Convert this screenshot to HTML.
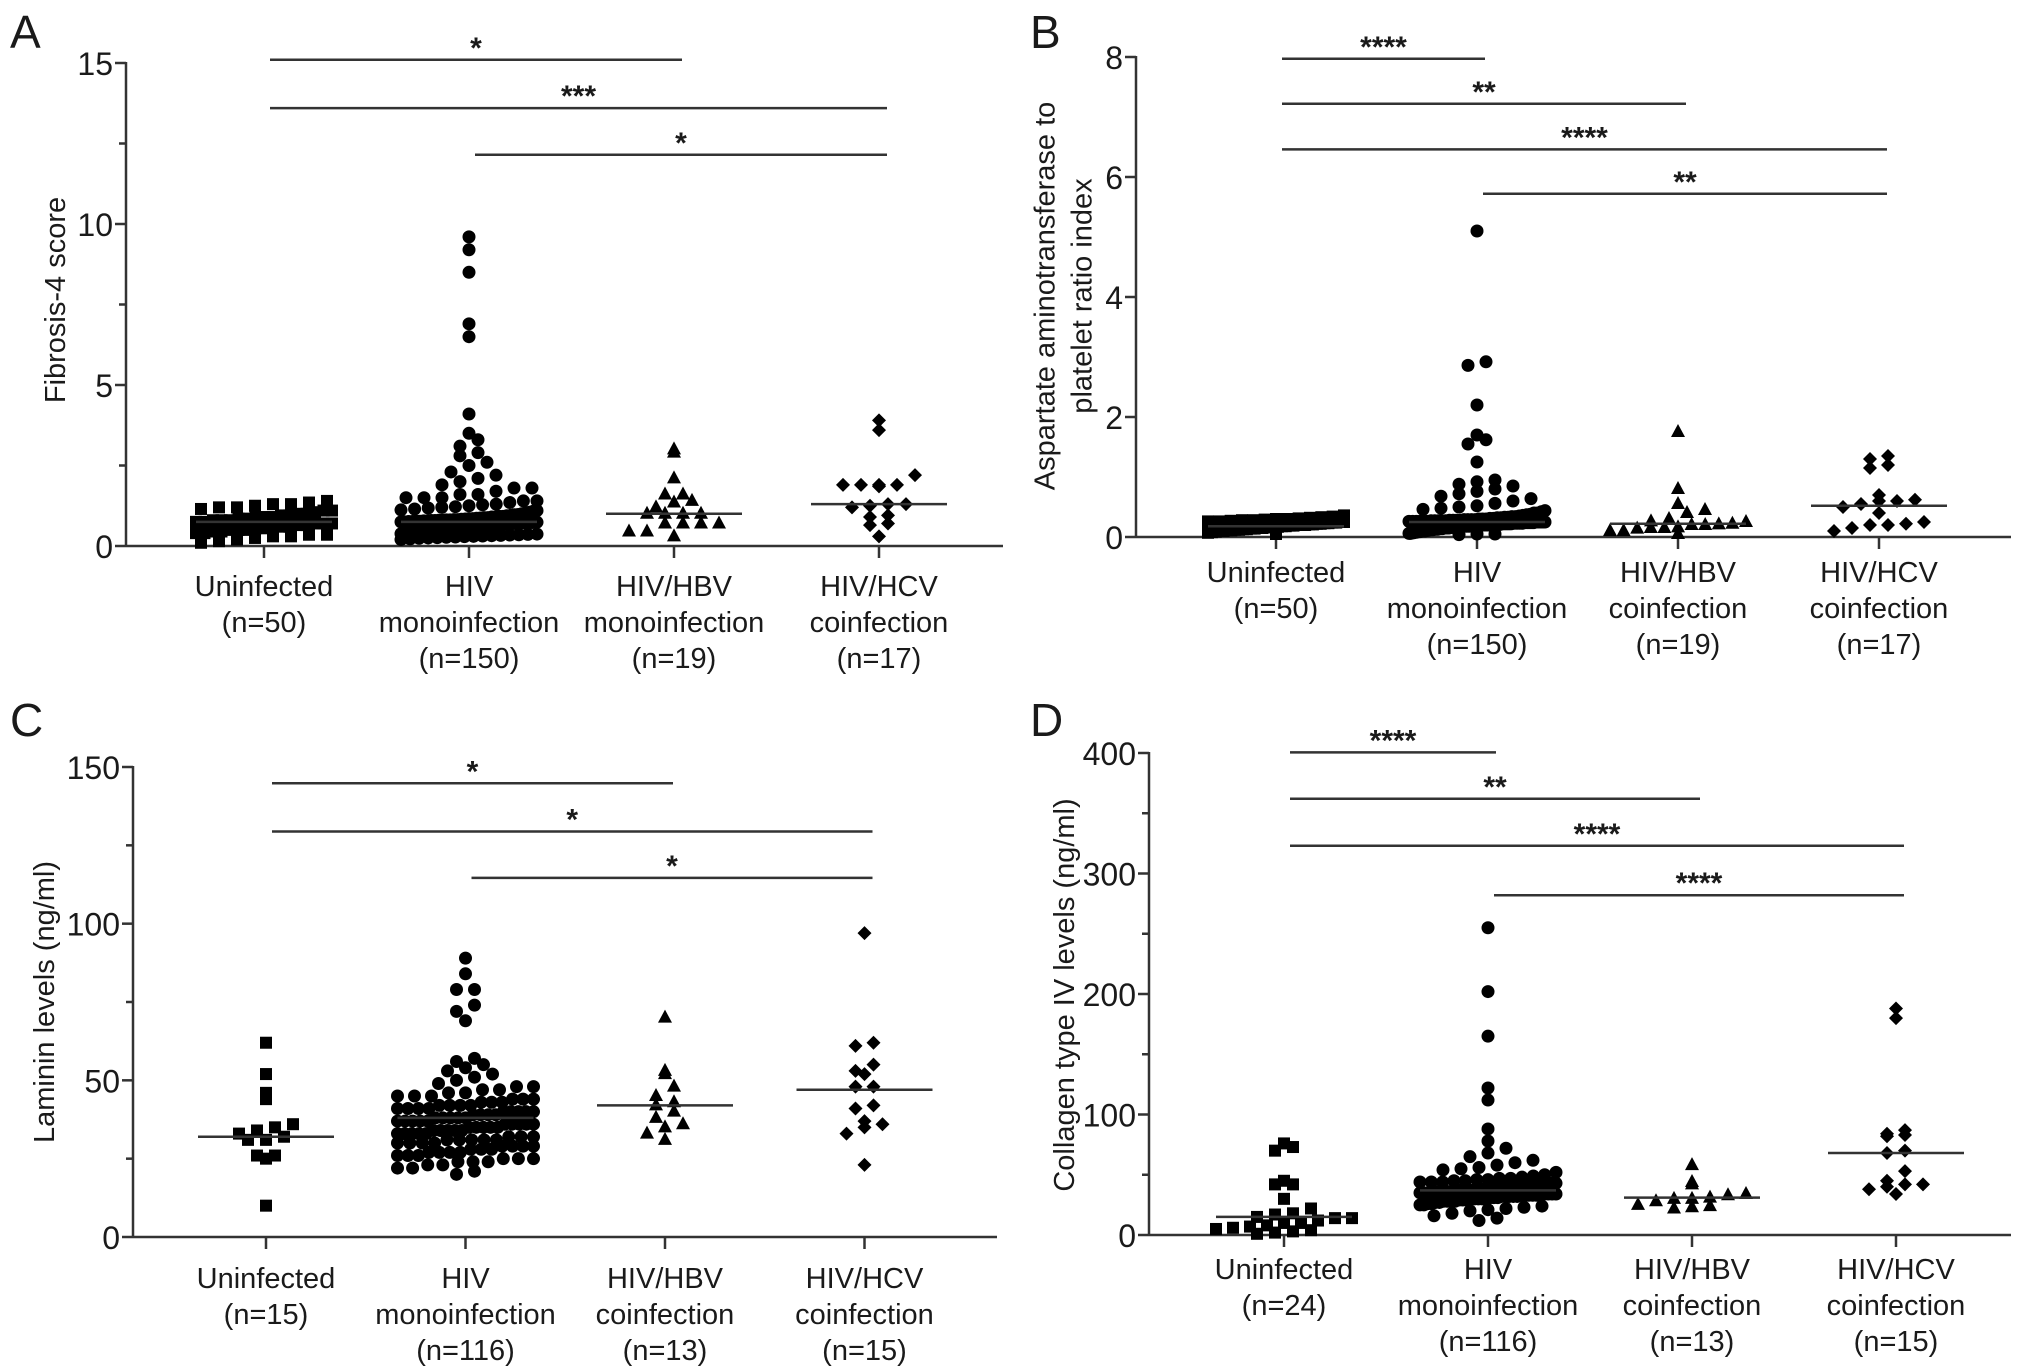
<!DOCTYPE html>
<html><head><meta charset="utf-8"><style>
html,body{margin:0;padding:0;background:#fff;}
svg{display:block;}
text{font-family:"Liberation Sans",Arial,sans-serif;fill:#1a1a1a;}
</style></head><body>
<svg id="fig" width="2032" height="1372" viewBox="0 0 2032 1372" xmlns="http://www.w3.org/2000/svg"></svg>
<script>
// ---------- Panel A data (Fibrosis-4 score) ----------
const aCategories = [["Uninfected","(n=50)"],["HIV","monoinfection","(n=150)"],["HIV/HBV","monoinfection","(n=19)"],["HIV/HCV","coinfection","(n=17)"]];
const aTicks = [0,5,10,15];
const aUninfected = [1.4,1.35,1.3,1.3,1.25,1.2,1.2,1.15,1.1,1.1,1.05,1.0,1.0,0.95,0.95,0.9,0.9,0.9,0.85,0.85,0.8,0.8,0.8,0.75,0.75,0.7,0.7,0.7,0.65,0.65,0.6,0.6,0.6,0.55,0.55,0.5,0.5,0.5,0.45,0.45,0.4,0.4,0.35,0.35,0.3,0.3,0.25,0.2,0.15,0.1];
const aHIV = [9.6,9.2,8.5,6.9,6.5,4.1,3.5,3.3,3.1,2.9,2.8,2.6,2.5,2.3,2.2,2.1,2.0,1.9,1.8,1.8,1.7,1.6,1.6,1.5,1.5,1.5,1.4,1.4,
1.35,1.3,1.28,1.25,1.22,1.2,1.18,1.15,1.12,1.1,1.08,1.05,1.03,1.0,0.98,0.97,0.95,0.94,0.92,0.9,0.9,0.88,0.87,0.86,0.85,0.84,0.83,0.82,0.81,0.8,
0.8,0.79,0.78,0.78,0.77,0.76,0.75,0.75,0.74,0.73,0.72,0.72,0.71,0.7,0.7,0.7,0.69,0.68,0.68,0.67,0.66,0.65,0.65,0.64,0.63,0.62,0.62,0.61,0.6,0.6,
0.6,0.59,0.58,0.57,0.56,0.55,0.55,0.54,0.53,0.52,0.51,0.5,0.5,0.49,0.48,0.47,0.46,0.45,0.44,0.43,0.42,0.41,0.4,0.39,0.38,0.37,0.36,0.35,0.34,0.33,
0.32,0.31,0.3,0.29,0.28,0.27,0.26,0.25,0.24,0.22,0.2,0.85,0.82,0.76,0.73,0.71,0.69,0.66,0.63,0.58,0.77,0.74,0.79,0.72,0.67,0.64,0.61,0.57,0.53,0.81,0.88,0.92];
const aHBV = [3.0,2.9,2.1,1.6,1.6,1.4,1.35,1.2,1.0,1.0,1.0,1.0,0.7,0.7,0.7,0.7,0.45,0.45,0.3];
const aHCV = [3.9,3.6,2.2,1.9,1.9,1.9,1.9,1.85,1.3,1.3,1.25,1.2,0.95,0.9,0.7,0.65,0.3];
const aMedians = [0.75,0.75,1.0,1.3];
const aSigFrom = [0,0,1];
const aSigTo = [2,3,3];
const aSigY = [15.1,13.6,12.15];
const aSigLabel = ["*","***","*"];

// ---------- Panel B data (APRI) ----------
const bCategories = [["Uninfected","(n=50)"],["HIV","monoinfection","(n=150)"],["HIV/HBV","coinfection","(n=19)"],["HIV/HCV","coinfection","(n=17)"]];
const bTicks = [0,2,4,6,8];
const bUninfected = [0.36,0.34,0.33,0.32,0.31,0.3,0.3,0.29,0.28,0.28,0.27,0.26,0.26,0.25,0.25,0.24,0.24,0.23,0.23,0.22,0.22,0.21,0.21,0.2,0.2,0.2,0.19,0.19,0.18,0.18,0.17,0.17,0.16,0.16,0.15,0.15,0.14,0.14,0.13,0.13,0.12,0.12,0.11,0.11,0.1,0.1,0.09,0.08,0.07,0.05];
const bHIV = [5.1,2.92,2.86,2.2,1.7,1.62,1.55,1.25,0.95,0.92,0.88,0.85,0.8,0.76,0.72,0.68,0.64,0.6,0.56,0.52,0.5,0.48,0.46,0.44,0.42,0.4,0.4,0.38,0.37,0.36,
0.35,0.34,0.34,0.33,0.33,0.32,0.32,0.31,0.31,0.3,0.3,0.3,0.29,0.29,0.29,0.28,0.28,0.28,0.28,0.27,0.27,0.27,0.27,0.26,0.26,0.26,0.26,0.26,0.25,0.25,
0.25,0.25,0.25,0.25,0.24,0.24,0.24,0.24,0.24,0.24,0.23,0.23,0.23,0.23,0.23,0.23,0.22,0.22,0.22,0.22,0.22,0.22,0.21,0.21,0.21,0.21,0.21,0.2,0.2,0.2,
0.2,0.2,0.2,0.19,0.19,0.19,0.19,0.19,0.18,0.18,0.18,0.18,0.18,0.17,0.17,0.17,0.17,0.16,0.16,0.16,0.16,0.15,0.15,0.15,0.15,0.14,0.14,0.14,0.13,0.13,
0.13,0.12,0.12,0.12,0.11,0.11,0.1,0.1,0.1,0.09,0.09,0.08,0.08,0.07,0.07,0.06,0.06,0.05,0.05,0.04,0.27,0.25,0.23,0.21,0.19,0.29,0.26,0.22,0.2,0.24];
const bHBV = [1.75,0.8,0.55,0.45,0.4,0.3,0.26,0.25,0.22,0.21,0.2,0.2,0.16,0.15,0.15,0.14,0.1,0.1,0.05];
const bHCV = [1.35,1.3,1.2,1.15,0.7,0.62,0.6,0.6,0.55,0.5,0.4,0.25,0.22,0.2,0.2,0.15,0.1];
const bMedians = [0.18,0.25,0.22,0.52];
const bSigFrom = [0,0,0,1];
const bSigTo = [1,2,3,3];
const bSigY = [7.97,7.22,6.46,5.72];
const bSigLabel = ["****","**","****","**"];

// ---------- Panel C data (Laminin) ----------
const cCategories = [["Uninfected","(n=15)"],["HIV","monoinfection","(n=116)"],["HIV/HBV","coinfection","(n=13)"],["HIV/HCV","coinfection","(n=15)"]];
const cTicks = [0,50,100,150];
const cUninfected = [62,52,46,44,36,35,34,33,32,31,31,26,26,25,10];
const cHIV = [89,84,79,79,74,72,69,57,56,55,54,53,52,51,50,49,48,48,47,47,46,46,45,45,44,44,44,43,43,42,
42,42,41,41,41,40,40,40,40,39,39,39,38,38,38,38,37,37,37,37,36,36,36,36,35,35,35,35,34,34,
34,34,33,33,33,33,32,32,32,31,31,31,31,30,30,30,30,29,29,29,28,28,28,27,27,27,26,26,26,25,
25,25,24,24,24,23,23,22,22,21,20,45,43,41,39,37,35,33,31,29,27,36,38,40,42,34];
const cHBV = [70,53,52,48,45,43,42,40,38,36,35,33,31];
const cHCV = [97,62,61,55,53,52,48,48,42,41,37,36,35,33,23];
const cMedians = [32,38,42,47];
const cSigFrom = [0,0,1];
const cSigTo = [2,3,3];
const cSigY = [144.8,129.4,114.6];
const cSigLabel = ["*","*","*"];

// ---------- Panel D data (Collagen IV) ----------
const dCategories = [["Uninfected","(n=24)"],["HIV","monoinfection","(n=116)"],["HIV/HBV","coinfection","(n=13)"],["HIV/HCV","coinfection","(n=15)"]];
const dTicks = [0,100,200,300,400];
const dUninfected = [76,73,70,45,42,42,30,22,18,17,15,14,14,12,10,10,8,7,6,5,4,3,2,1];
const dHIV = [255,202,165,122,112,88,78,72,68,65,62,60,58,56,55,54,52,50,49,48,47,47,46,45,45,44,44,43,43,42,
42,41,41,41,40,40,40,39,39,39,38,38,38,38,37,37,37,37,36,36,36,36,35,35,35,35,34,34,34,34,
33,33,33,33,32,32,32,32,31,31,31,30,30,30,29,29,29,28,28,28,27,27,26,26,25,25,24,23,22,21,
20,18,16,14,12,46,44,42,40,38,36,34,32,30,28,39,37,35,33,31,43,41];
const dHBV = [58,44,42,34,33,31,30,30,28,25,24,23,22];
const dHCV = [188,180,87,84,83,82,70,68,53,45,42,42,40,38,34];
const dMedians = [15,37,31,68];
const dSigFrom = [0,0,0,1];
const dSigTo = [1,2,3,3];
const dSigY = [400.5,362,323,282];
const dSigLabel = ["****","**","****","****"];

const NS = "http://www.w3.org/2000/svg";
const svg = document.getElementById('fig');
function mk(tag, attrs, parent, txt) {
  const e = document.createElementNS(NS, tag);
  for (const k in attrs) e.setAttribute(k, attrs[k]);
  if (txt !== undefined) e.textContent = txt;
  (parent || svg).appendChild(e);
  return e;
}

function drawPanel(p) {
  const g = mk('g', {});
  
  
  const yS = v => p.y0 - (v / p.yMax) * (p.y0 - p.yTop);
  const xS = i => p.cat0 + i * p.catStep;
  const stroke = '#333';
  const L = mk('text', {x: p.letterX, y: p.letterY, 'font-size': 46}, g, p.letter);
  
  
  const ya = mk('line', {x1: p.ax, y1: p.yTop - 1, x2: p.ax, y2: p.y0, stroke: stroke, 'stroke-width': 2.5}, g);
  
  
  p.ticks.forEach((t, i) => {
    mk('line', {x1: p.ax - 11, y1: yS(t), x2: p.ax, y2: yS(t), stroke: stroke, 'stroke-width': 2.5}, g);
    const tl = mk('text', {x: p.ax - 13, y: yS(t) + 12, 'font-size': 32, 'text-anchor': 'end'}, g, String(t));
    
    
    if (p.minor && i < p.ticks.length - 1) {
      const m = (t + p.ticks[i + 1]) / 2;
      mk('line', {x1: p.ax - 7, y1: yS(m), x2: p.ax, y2: yS(m), stroke: stroke, 'stroke-width': 2.5}, g);
    }
  });
  const tg = mk('text', {transform: `translate(${p.titleX},${p.titleY}) rotate(-90)`, 'font-size': 29, 'text-anchor': 'middle'}, g);
  
  
  p.title.forEach((line, k) => {
    mk('tspan', {x: 0, y: (k - (p.title.length - 1) / 2) * 37 + 10}, tg, line);
  });
  const xa = mk('line', {x1: p.ax, y1: p.y0, x2: p.axEnd, y2: p.y0, stroke: stroke, 'stroke-width': 2.5}, g);
  
  
  p.cats.forEach((lines, i) => {
    mk('line', {x1: xS(i), y1: p.y0, x2: xS(i), y2: p.y0 + 12, stroke: stroke, 'stroke-width': 2.5}, g);
    lines.forEach((ln, k) => {
      const t = mk('text', {x: xS(i), y: p.labY + k * 36, 'font-size': 29, 'text-anchor': 'middle'}, g, ln);
      
      
    });
  });
  p.series.forEach((vals, i) => {
    const cx = xS(i);
    const rowH = 12, step = 18, maxHalf = 68;
    const sorted = vals.slice().sort((a, b) => a - b);
    const bins = {};
    sorted.forEach(v => {
      const key = Math.round(yS(v) / rowH);
      (bins[key] = bins[key] || []).push(v);
    });
    Object.keys(bins).forEach(key => {
      const arr = bins[key];
      const n = arr.length;
      const sp = n > 1 ? Math.min(step, (2 * maxHalf) / (n - 1)) : 0;
      arr.forEach((v, j) => {
        const px = cx + (j - (n - 1) / 2) * sp;
        const py = yS(v);
        let el;
        const shape = p.shapes[i];
        if (shape === 'circle') el = mk('circle', {cx: px, cy: py, r: 6.5, fill: '#000'}, g);
        else if (shape === 'square') el = mk('rect', {x: px - 6, y: py - 6, width: 12, height: 12, fill: '#000'}, g);
        else if (shape === 'tri') el = mk('polygon', {points: `${px},${py - 8} ${px + 7},${py + 5} ${px - 7},${py + 5}`, fill: '#000'}, g);
        else el = mk('polygon', {points: `${px},${py - 7} ${px + 7},${py} ${px},${py + 7} ${px - 7},${py}`, fill: '#000'}, g);
        
        
      });
    });
    const md = mk('line', {x1: cx - 68, y1: yS(p.medians[i]), x2: cx + 68, y2: yS(p.medians[i]), stroke: stroke, 'stroke-width': 2.5}, g);
    
    
  });
  p.sigFrom.forEach((f, k) => {
    const x1 = xS(f) + 6, x2 = xS(p.sigTo[k]) + 8, y = yS(p.sigY[k]);
    const b = mk('line', {x1: x1, y1: y, x2: x2, y2: y, stroke: stroke, 'stroke-width': 2.5}, g);
    
    
    const s = mk('text', {x: (x1 + x2) / 2, y: y - 2, 'font-size': 30, 'font-weight': 'bold', 'text-anchor': 'middle'}, g, p.sigLabel[k]);
    
    
  });
}

const shapes4 = ['square', 'circle', 'tri', 'diamond'];
drawPanel({name: 'panel-a-fib4', letter: 'A', letterX: 10, letterY: 48, ax: 126, yTop: 63, y0: 546, yMax: 15, axEnd: 1003,
  ticks: aTicks, minor: true, cat0: 264, catStep: 205, labY: 596, title: ['Fibrosis-4 score'], titleX: 55, titleY: 300,
  cats: aCategories, series: [aUninfected, aHIV, aHBV, aHCV], shapes: shapes4, medians: aMedians,
  sigFrom: aSigFrom, sigTo: aSigTo, sigY: aSigY, sigLabel: aSigLabel});
drawPanel({name: 'panel-b-apri', letter: 'B', letterX: 1030, letterY: 48, ax: 1136, yTop: 57, y0: 537, yMax: 8, axEnd: 2011,
  ticks: bTicks, minor: false, cat0: 1276, catStep: 201, labY: 582, title: ['Aspartate aminotransferase to', 'platelet ratio index'], titleX: 1063, titleY: 296,
  cats: bCategories, series: [bUninfected, bHIV, bHBV, bHCV], shapes: ['square', 'circle', 'tri', 'diamond'], medians: bMedians,
  sigFrom: bSigFrom, sigTo: bSigTo, sigY: bSigY, sigLabel: bSigLabel});
drawPanel({name: 'panel-c-laminin', letter: 'C', letterX: 10, letterY: 736, ax: 133, yTop: 767, y0: 1237, yMax: 150, axEnd: 997,
  ticks: cTicks, minor: true, cat0: 266, catStep: 199.5, labY: 1288, title: ['Laminin levels (ng/ml)'], titleX: 44, titleY: 1002,
  cats: cCategories, series: [cUninfected, cHIV, cHBV, cHCV], shapes: shapes4, medians: cMedians,
  sigFrom: cSigFrom, sigTo: cSigTo, sigY: cSigY, sigLabel: cSigLabel});
drawPanel({name: 'panel-d-collagen', letter: 'D', letterX: 1030, letterY: 736, ax: 1149, yTop: 753, y0: 1235, yMax: 400, axEnd: 2011,
  ticks: dTicks, minor: true, cat0: 1284, catStep: 204, labY: 1279, title: ['Collagen type IV levels (ng/ml)'], titleX: 1064, titleY: 995,
  cats: dCategories, series: [dUninfected, dHIV, dHBV, dHCV], shapes: shapes4, medians: dMedians,
  sigFrom: dSigFrom, sigTo: dSigTo, sigY: dSigY, sigLabel: dSigLabel});
</script>
</body></html>
